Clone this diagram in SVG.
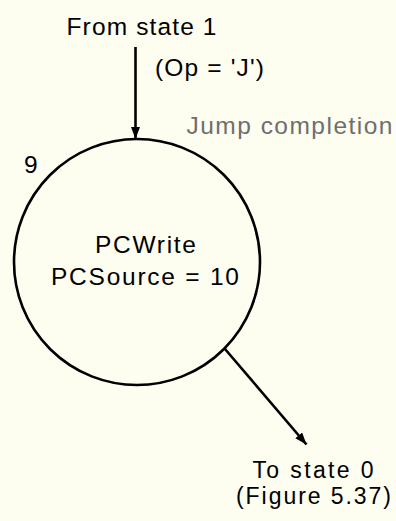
<svg xmlns="http://www.w3.org/2000/svg" width="396" height="521" viewBox="0 0 396 521">
  <style>
    .lbl { font-family: "Liberation Sans", Arial, Helvetica, sans-serif; font-size: 24.5px; fill: #000; }
    .small { font-size: 23px; }
    .note { fill: #6e6e6e; }
    .state { fill: none; stroke: #000; stroke-width: 2.6; }
    .edge { fill: none; stroke: #000; stroke-width: 2.6; }
  </style>
  <defs>
    <marker id="arrow" viewBox="0 0 12 9" refX="12" refY="4.5" markerWidth="12" markerHeight="9" markerUnits="userSpaceOnUse" orient="auto">
      <path d="M0,0 L12,4.5 L0,9 Z" fill="#000"/>
    </marker>
  </defs>
  <rect width="396" height="521" fill="#fdfdf0"/>

  <g id="connectors">
    <g id="edge-from-state1">
      <line class="edge" x1="135.5" y1="47" x2="135.5" y2="139" marker-end="url(#arrow)"/>
      <text class="lbl" x="66.5" y="34.5" textLength="150" lengthAdjust="spacing">From state 1</text>
      <text class="lbl" x="155" y="76" textLength="109" lengthAdjust="spacing">(Op = 'J')</text>
    </g>
    <g id="edge-to-state0">
      <line class="edge" x1="225" y1="349" x2="306.5" y2="444.5" marker-end="url(#arrow)"/>
      <text class="lbl small" x="252.5" y="478" textLength="121" lengthAdjust="spacing">To state 0</text>
      <text class="lbl small" x="236" y="504" textLength="155" lengthAdjust="spacing">(Figure 5.37)</text>
    </g>
  </g>

  <g id="state-9">
    <ellipse class="state" cx="137" cy="262" rx="123" ry="123"/>
    <text class="lbl" x="24" y="172.5">9</text>
    <text class="lbl" x="95" y="252.5" textLength="101" lengthAdjust="spacing">PCWrite</text>
    <text class="lbl" x="51" y="284.5" textLength="188" lengthAdjust="spacing">PCSource = 10</text>
  </g>

  <text class="lbl note" x="186.5" y="133.5" textLength="206" lengthAdjust="spacing">Jump completion</text>
</svg>
